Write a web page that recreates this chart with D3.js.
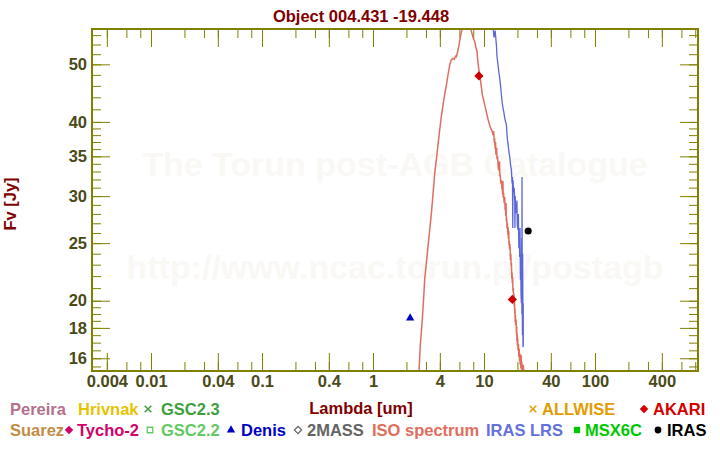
<!DOCTYPE html>
<html><head><meta charset="utf-8">
<script src="https://cdn.jsdelivr.net/npm/d3@7"></script>
<style>
body{margin:0;background:#fff}
svg{display:block;font-family:Arial,"Liberation Sans",sans-serif;font-weight:bold}
</style>
</head><body>
<svg id="chart" width="720" height="450"></svg>
<script>
// ---------- data ----------
const titleText = "Object 004.431 -19.448";
const xAxisTitle = "Lambda [um]";
const yAxisTitle = "Fv [Jy]";
const watermark = ["The Torun post-AGB Catalogue", "http://www.ncac.torun.pl/postagb"];

const xMinorTicks = [0.004,0.006,0.008,0.01,0.02,0.03,0.04,0.06,0.08,0.1,0.2,0.3,0.4,0.6,0.8,1,2,3,4,6,8,10,20,30,40,60,80,100,200,300,400,600,800];
const xMajorTicks = [0.004,0.01,0.04,0.1,0.4,1,4,10,40,100,400];
const yMinorTicks = [15.5,16,16.5,17,17.5,18,18.5,19,19.5,20,21,22,23,24,25,26,27,28,29,30,31,32,33,34,35,36,37,38,39,40,42,44,46,48,50,52,54,56];
const yMajorTicks = [16,18,20,25,30,35,40,50];

// ISO spectrum (salmon)
const isoLambda = [2.50,2.60,2.67,2.72,2.79,2.85,2.92,3.00,3.13,3.24,3.36,3.47,3.60,3.75,3.87,3.99,4.13,4.27,4.43,4.59,4.74,4.91,5.05,5.26,5.40,5.55,5.64,5.80,5.96,6.10,6.26,6.50,6.80,7.10,7.40,7.70,7.95,8.25,8.45,8.65,8.80,8.96,9.15,9.34,9.50,9.67,9.90,10.15,10.40,10.64,10.95,11.25,11.60,11.90,12.05,12.20,12.35,12.49,12.60,12.70,12.80,12.90,13.00,13.10,13.25,13.37,13.50,13.60,13.70,13.80,13.90,14.00,14.15,14.35,14.50,14.60,14.70,14.80,14.90,15.00,15.20,15.37,15.50,15.60,15.70,15.80,15.90,16.00,16.12,16.25,16.40,16.50,16.60,16.70,16.80,16.90,17.04,17.15,17.30,17.45,17.55,17.65,17.80,17.90,18.00,18.10,18.25,18.40,18.50,18.60,18.70,18.80,18.91,19.00,19.10,19.20,19.30,19.45,19.59,19.70,19.80,19.90,20.00,20.10,20.25,20.40,20.60,20.75,20.90,21.05,21.20,21.35,21.50,21.60,21.73,21.85,22.00,22.30,22.60,22.79,23.20,23.50];
const isoFlux = [14.5,15.3,16.9,17.6,18.8,20.0,21.7,22.8,24.7,26.3,28.1,30.2,32.8,35.0,36.9,38.8,40.9,42.7,44.6,46.2,48.0,49.9,50.8,51.2,51.0,51.6,51.5,52.6,53.9,55.4,56.7,58.5,59.8,60.3,59.6,56.8,55.6,54.6,53.4,52.5,50.6,49.2,47.9,46.7,45.6,44.4,43.6,42.7,41.9,41.1,40.2,39.5,38.9,38.5,38.0,38.6,37.2,37.3,36.0,37.0,35.4,35.2,36.2,34.6,35.0,34.0,33.2,34.2,33.0,34.3,32.4,32.6,31.5,31.9,30.8,31.4,30.2,31.8,29.8,30.4,29.2,29.9,28.4,28.9,27.8,29.2,27.2,27.5,26.5,27.0,25.8,26.6,25.4,26.2,24.8,25.2,24.4,24.9,23.4,24.0,22.9,23.2,21.8,22.3,21.4,21.9,20.7,21.0,19.9,20.5,19.6,20.2,19.0,19.4,18.4,18.9,18.2,18.6,17.6,18.1,17.1,17.6,16.8,17.3,16.5,16.9,16.1,16.6,15.8,16.3,15.6,16.0,15.4,16.2,15.3,15.8,15.5,15.3,15.6,15.1,15.3,14.6];

// IRAS LRS (blue)
const lrsLambda = [7.70,9.00,10.50,11.30,11.66,12.00,12.30,12.60,12.93,13.10,13.37,13.60,13.85,14.10,14.35,14.60,14.83,15.10,15.37,15.65,15.92,16.20,16.45,16.75,17.04,17.30,17.65,17.90,18.05,18.15,18.25,18.50,18.70,18.91,19.00,19.10,19.30,19.59,19.80,19.95,20.25,20.40,20.60,20.80,20.97,21.10,21.28,21.40,21.55,21.73,21.85,21.95,22.00,22.10,22.20,22.30,22.46,22.55,22.60];
const lrsFlux = [95,80,66,60,57.6,58.5,55.5,57.0,53.9,51.5,49.9,48.5,47.4,46.0,44.4,43.0,42.2,41.5,40.6,40.0,39.5,37.5,36.8,35.6,35.0,34.0,33.2,31.5,32.3,26.5,31.9,30.5,31.0,29.6,26.5,30.0,28.3,28.1,29.5,26.8,26.3,28.0,24.5,25.8,23.7,26.5,21.7,24.0,20.5,19.8,25.5,19.0,32.3,20.0,17.5,24.0,16.7,19.8,16.8];

// Photometry
const denisLambda = [2.16];  const denisFlux = [18.7];
const akariLambda = [9, 18]; const akariFlux = [47.8, 20.1];
const irasLambda = [25];     const irasFlux = [26.2];

// Legend
const legendNames  = ["Pereira","Hrivnak","GSC2.3","ALLWISE","AKARI","Suarez","Tycho-2","GSC2.2","Denis","2MASS","ISO spectrum","IRAS LRS","MSX6C","IRAS"];
const legendColors = ["#b5708c","#e6c300","#3f9f3f","#e39c00","#d40000","#c38d43","#d3006a","#64c864","#0000c8","#646464","#e06e5c","#6470dc","#00c800","#000000"];
const legendSymbols= [null,null,"x",  "x",  "diamond",null,"diamond","squareO","triangle","diamondO",null,null,"square","circle"];

// ---------- layout ----------
const W = 720, H = 450;
const L = 92, R = 698, T = 29, B = 371;
const axisColor = "#808000";
const labelColor = "#4a4a18";
const titleColor = "#800000";
const legendTextX = [10,78,161,542,653, 10,77,161,241,307,372,486,585,667];
const legendSymX  = [0,0,148,533,644, 0,69,150,231,298,0,0,577,658];
const legendRowY  = [415,415,415,415,415, 436,436,436,436,436,436,436,436,436];

const svg = d3.select("#chart");
svg.append("rect").attr("width",W).attr("height",H).attr("fill","#fff");

const x = d3.scaleLog().domain([0.00294, 847]).range([L, R]);
const y = d3.scaleLog().domain([15.23, 57.34]).range([B, T]);

// watermark
svg.append("g").selectAll("text").data(watermark).join("text")
  .attr("x", (L+R)/2).attr("y", (d,i)=> i===0 ? 176 : 279)
  .attr("text-anchor","middle").attr("font-size",34).attr("fill","#faf8f5")
  .text(d=>d);

// clip
svg.append("clipPath").attr("id","clip").append("rect")
  .attr("x",L).attr("y",T).attr("width",R-L).attr("height",B-T);

// axes
function styleAxis(g){
  g.select(".domain").remove();
  g.selectAll(".tick line").attr("stroke",axisColor).attr("stroke-width",1);
  g.selectAll(".tick text").attr("fill",labelColor).attr("font-size","16.5px")
    .attr("font-family","Arial, 'Liberation Sans', sans-serif").attr("font-weight","bold");
}
const fmt = d => String(d);
svg.append("g").attr("transform",`translate(0,${B})`)
  .call(d3.axisBottom(x).tickValues(xMinorTicks).tickSize(-9).tickFormat("")).call(styleAxis);
svg.append("g").attr("transform",`translate(0,${B})`)
  .call(d3.axisBottom(x).tickValues(xMajorTicks).tickSize(-18).tickPadding(4.5).tickFormat(fmt)).call(styleAxis);
svg.append("g").attr("transform",`translate(0,${T})`)
  .call(d3.axisTop(x).tickValues(xMinorTicks).tickSize(-9).tickFormat("")).call(styleAxis);
svg.append("g").attr("transform",`translate(0,${T})`)
  .call(d3.axisTop(x).tickValues(xMajorTicks).tickSize(-18).tickFormat("")).call(styleAxis);
svg.append("g").attr("transform",`translate(${L},0)`)
  .call(d3.axisLeft(y).tickValues(yMinorTicks).tickSize(-9).tickFormat("")).call(styleAxis);
svg.append("g").attr("transform",`translate(${L},0)`)
  .call(d3.axisLeft(y).tickValues(yMajorTicks).tickSize(-18).tickPadding(5).tickFormat(fmt)).call(styleAxis);
svg.append("g").attr("transform",`translate(${R},0)`)
  .call(d3.axisRight(y).tickValues(yMinorTicks).tickSize(-9).tickFormat("")).call(styleAxis);
svg.append("g").attr("transform",`translate(${R},0)`)
  .call(d3.axisRight(y).tickValues(yMajorTicks).tickSize(-18).tickFormat("")).call(styleAxis);

// lines
const line = d3.line().x(d=>x(d[0])).y(d=>y(d[1]));
const plot = svg.append("g").attr("clip-path","url(#clip)");
plot.append("path").datum(isoLambda.map((l,i)=>[l,isoFlux[i]]))
  .attr("d",line).attr("fill","none").attr("stroke","#e06e5c").attr("stroke-width",1.5);
plot.append("path").datum(lrsLambda.map((l,i)=>[l,lrsFlux[i]]))
  .attr("d",line).attr("fill","none").attr("stroke","#5b67d8").attr("stroke-width",1.3);

// points
plot.selectAll(".denis").data(denisLambda.map((l,i)=>[l,denisFlux[i]])).join("path")
  .attr("transform",d=>`translate(${x(d[0])},${y(d[1])})`)
  .attr("d",d3.symbol(d3.symbolTriangle,30)()).attr("fill","#0000c8");
plot.selectAll(".akari").data(akariLambda.map((l,i)=>[l,akariFlux[i]])).join("path")
  .attr("transform",d=>`translate(${x(d[0])},${y(d[1])}) rotate(45)`)
  .attr("d",d3.symbol(d3.symbolSquare,42)()).attr("fill","#cc0000");
plot.selectAll(".iras").data(irasLambda.map((l,i)=>[l,irasFlux[i]])).join("path")
  .attr("transform",d=>`translate(${x(d[0])},${y(d[1])})`)
  .attr("d",d3.symbol(d3.symbolCircle,40)()).attr("fill","#000");

// frame
svg.append("rect").attr("x",L).attr("y",T).attr("width",R-L).attr("height",B-T)
  .attr("fill","none").attr("stroke",axisColor).attr("stroke-width",2);

// titles
svg.append("text").attr("x",361).attr("y",22).attr("text-anchor","middle")
  .attr("font-size","16.5px").attr("fill",titleColor).text(titleText);
svg.append("text").attr("x",361).attr("y",414).attr("text-anchor","middle")
  .attr("font-size","16.5px").attr("fill",titleColor).text(xAxisTitle);
svg.append("text").attr("transform","translate(16,204) rotate(-90)").attr("text-anchor","middle")
  .attr("font-size","16.5px").attr("fill",titleColor).text(yAxisTitle);

// legend
const lg = svg.append("g");
legendNames.forEach((name,i)=>{
  const c = legendColors[i], yy = legendRowY[i];
  lg.append("text").attr("x",legendTextX[i]).attr("y",yy).attr("font-size","16.5px")
    .attr("fill",c).text(name);
  const s = legendSymbols[i];
  if(!s) return;
  const cx = legendSymX[i], cy = yy-6;
  const p = lg.append("path").attr("transform",`translate(${cx},${cy})`);
  if(s==="x") p.attr("d",d3.symbol(d3.symbolTimes,30)()).attr("fill","none").attr("stroke",c).attr("stroke-width",1.5);
  else if(s==="diamond") p.attr("transform",`translate(${cx},${cy}) rotate(45)`).attr("d",d3.symbol(d3.symbolSquare,36)()).attr("fill",c);
  else if(s==="diamondO") p.attr("transform",`translate(${cx},${cy}) rotate(45)`).attr("d",d3.symbol(d3.symbolSquare,26)()).attr("fill","none").attr("stroke",c).attr("stroke-width",1.2);
  else if(s==="squareO") p.attr("d",d3.symbol(d3.symbolSquare,30)()).attr("fill","none").attr("stroke",c).attr("stroke-width",1.3);
  else if(s==="triangle") p.attr("d",d3.symbol(d3.symbolTriangle,30)()).attr("fill",c);
  else if(s==="square") p.attr("d",d3.symbol(d3.symbolSquare,40)()).attr("fill",c);
  else if(s==="circle") p.attr("d",d3.symbol(d3.symbolCircle,36)()).attr("fill",c);
});
</script>
</body></html>
